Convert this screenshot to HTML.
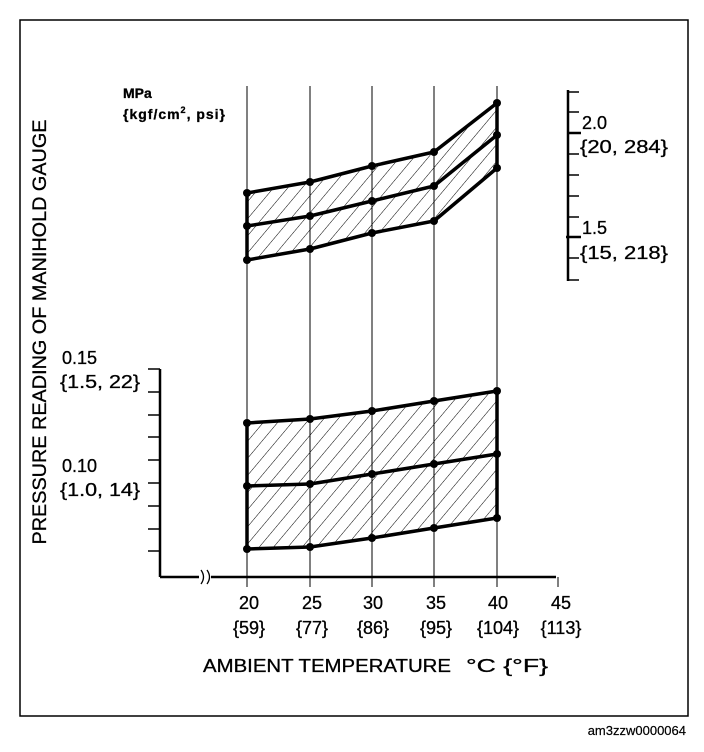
<!DOCTYPE html>
<html><head><meta charset="utf-8"><style>
body{margin:0;background:#fff;}
svg{display:block;font-family:"Liberation Sans",Arial,sans-serif;}
</style></head><body>
<svg width="704" height="752" viewBox="0 0 704 752" xmlns="http://www.w3.org/2000/svg">
<defs>
<pattern id="h" patternUnits="userSpaceOnUse" width="11" height="11" patternTransform="rotate(40)">
<line x1="0" y1="0" x2="0" y2="11" stroke="#000" stroke-width="1"/>
</pattern>
</defs>
<rect x="20" y="20" width="668" height="696" fill="none" stroke="#000" stroke-width="1.5"/>
<g stroke="#000" stroke-width="1">
<line x1="247" y1="86" x2="247" y2="577"/>
<line x1="310" y1="86" x2="310" y2="577"/>
<line x1="372" y1="86" x2="372" y2="577"/>
<line x1="434" y1="86" x2="434" y2="577"/>
<line x1="497" y1="86" x2="497" y2="577"/>
<line x1="558" y1="577" x2="558" y2="587"/>
<line x1="247" y1="577" x2="247" y2="587"/>
<line x1="310" y1="577" x2="310" y2="587"/>
<line x1="372" y1="577" x2="372" y2="587"/>
<line x1="434" y1="577" x2="434" y2="587"/>
<line x1="497" y1="577" x2="497" y2="587"/>
</g>
<g stroke="#000" stroke-width="2.5" fill="none">
<line x1="160" y1="369" x2="160" y2="577"/>
<line x1="160" y1="577" x2="556" y2="577"/>
<line x1="568" y1="90" x2="568" y2="281"/>
</g>
<rect x="199" y="570" width="12" height="14" fill="#fff"/>
<path d="M201 570 q5 7 0 14 M207 570 q5 7 0 14" stroke="#000" stroke-width="1.3" fill="none"/>
<g stroke="#000" stroke-width="1.5">
<line x1="148" y1="369" x2="160" y2="369"/>
<line x1="148" y1="392" x2="160" y2="392"/>
<line x1="148" y1="415" x2="160" y2="415"/>
<line x1="148" y1="437" x2="160" y2="437"/>
<line x1="148" y1="460" x2="160" y2="460"/>
<line x1="148" y1="483" x2="160" y2="483"/>
<line x1="148" y1="506" x2="160" y2="506"/>
<line x1="148" y1="529" x2="160" y2="529"/>
<line x1="148" y1="551" x2="160" y2="551"/>
<line x1="568" y1="92" x2="579" y2="92"/>
<line x1="568" y1="112" x2="579" y2="112"/>
<line x1="568" y1="133" x2="581" y2="133" stroke-width="2.5"/>
<line x1="568" y1="154" x2="579" y2="154"/>
<line x1="568" y1="175" x2="579" y2="175"/>
<line x1="568" y1="196" x2="579" y2="196"/>
<line x1="568" y1="217" x2="579" y2="217"/>
<line x1="566" y1="237" x2="581" y2="237" stroke-width="2.5"/>
<line x1="568" y1="258" x2="579" y2="258"/>
<line x1="568" y1="280" x2="579" y2="280"/>
</g>
<polygon points="247,193 310,182 372,166 434,152 497,103 497,168 434,221 372,233 310,249 247,260" fill="url(#h)"/>
<polygon points="247,423 310,419 372,411 434,401 497,391 497,518 434,528 372,538 310,547 247,549" fill="url(#h)"/>
<g stroke="#000" stroke-width="3.5" fill="none" stroke-linejoin="round">
<polyline points="247,193 310,182 372,166 434,152 497,103"/>
<polyline points="247,226 310,216 372,201 434,186 497,135"/>
<polyline points="247,260 310,249 372,233 434,221 497,168"/>
<line x1="247" y1="193" x2="247" y2="260"/>
<line x1="497" y1="103" x2="497" y2="168"/>
<polyline points="247,423 310,419 372,411 434,401 497,391"/>
<polyline points="247,486 310,484 372,474 434,464 497,454"/>
<polyline points="247,549 310,547 372,538 434,528 497,518"/>
<line x1="247" y1="423" x2="247" y2="549"/>
<line x1="497" y1="391" x2="497" y2="518"/>
</g>
<g fill="#000">
<circle cx="247" cy="193" r="4"/><circle cx="310" cy="182" r="4"/><circle cx="372" cy="166" r="4"/><circle cx="434" cy="152" r="4"/><circle cx="497" cy="103" r="4"/>
<circle cx="247" cy="226" r="4"/><circle cx="310" cy="216" r="4"/><circle cx="372" cy="201" r="4"/><circle cx="434" cy="186" r="4"/><circle cx="497" cy="135" r="4"/>
<circle cx="247" cy="260" r="4"/><circle cx="310" cy="249" r="4"/><circle cx="372" cy="233" r="4"/><circle cx="434" cy="221" r="4"/><circle cx="497" cy="168" r="4"/>
<circle cx="247" cy="423" r="4"/><circle cx="310" cy="419" r="4"/><circle cx="372" cy="411" r="4"/><circle cx="434" cy="401" r="4"/><circle cx="497" cy="391" r="4"/>
<circle cx="247" cy="486" r="4"/><circle cx="310" cy="484" r="4"/><circle cx="372" cy="474" r="4"/><circle cx="434" cy="464" r="4"/><circle cx="497" cy="454" r="4"/>
<circle cx="247" cy="549" r="4"/><circle cx="310" cy="547" r="4"/><circle cx="372" cy="538" r="4"/><circle cx="434" cy="528" r="4"/><circle cx="497" cy="518" r="4"/>
</g>
<g fill="#000" font-size="18" stroke="#000" stroke-width="0.3">
<text x="123" y="98" font-size="14" font-weight="bold">MPa</text>
<text x="123" y="119" font-size="14" font-weight="bold" textLength="102">{kgf/cm<tspan font-size="9" dy="-6">2</tspan><tspan dy="6">, psi}</tspan></text>
<text transform="translate(46,332) rotate(-90)" text-anchor="middle" font-size="19" textLength="425" lengthAdjust="spacingAndGlyphs">PRESSURE READING OF MANIHOLD GAUGE</text>
<text x="62" y="364">0.15</text>
<text x="60" y="388" textLength="80" lengthAdjust="spacingAndGlyphs">{1.5, 22}</text>
<text x="62" y="472">0.10</text>
<text x="60" y="496" textLength="80" lengthAdjust="spacingAndGlyphs">{1.0, 14}</text>
<text x="582" y="129">2.0</text>
<text x="580" y="153" textLength="88" lengthAdjust="spacingAndGlyphs">{20, 284}</text>
<text x="582" y="234">1.5</text>
<text x="580" y="259" textLength="88" lengthAdjust="spacingAndGlyphs">{15, 218}</text>
<g text-anchor="middle">
<text x="249" y="609">20</text><text x="312" y="609">25</text><text x="373" y="609">30</text><text x="436" y="609">35</text><text x="498" y="609">40</text><text x="561" y="609">45</text>
<text x="249" y="634">{59}</text><text x="312" y="634">{77}</text><text x="373" y="634">{86}</text><text x="436" y="634">{95}</text><text x="498" y="634">{104}</text><text x="561" y="634">{113}</text>
</g>
<text x="203" y="672" textLength="248" lengthAdjust="spacingAndGlyphs">AMBIENT TEMPERATURE</text>
<text x="466" y="672" textLength="82" lengthAdjust="spacingAndGlyphs">°C {°F}</text>
<text x="686" y="735" text-anchor="end" font-size="13" stroke-width="0.2">am3zzw0000064</text>
</g>
</svg>
</body></html>
